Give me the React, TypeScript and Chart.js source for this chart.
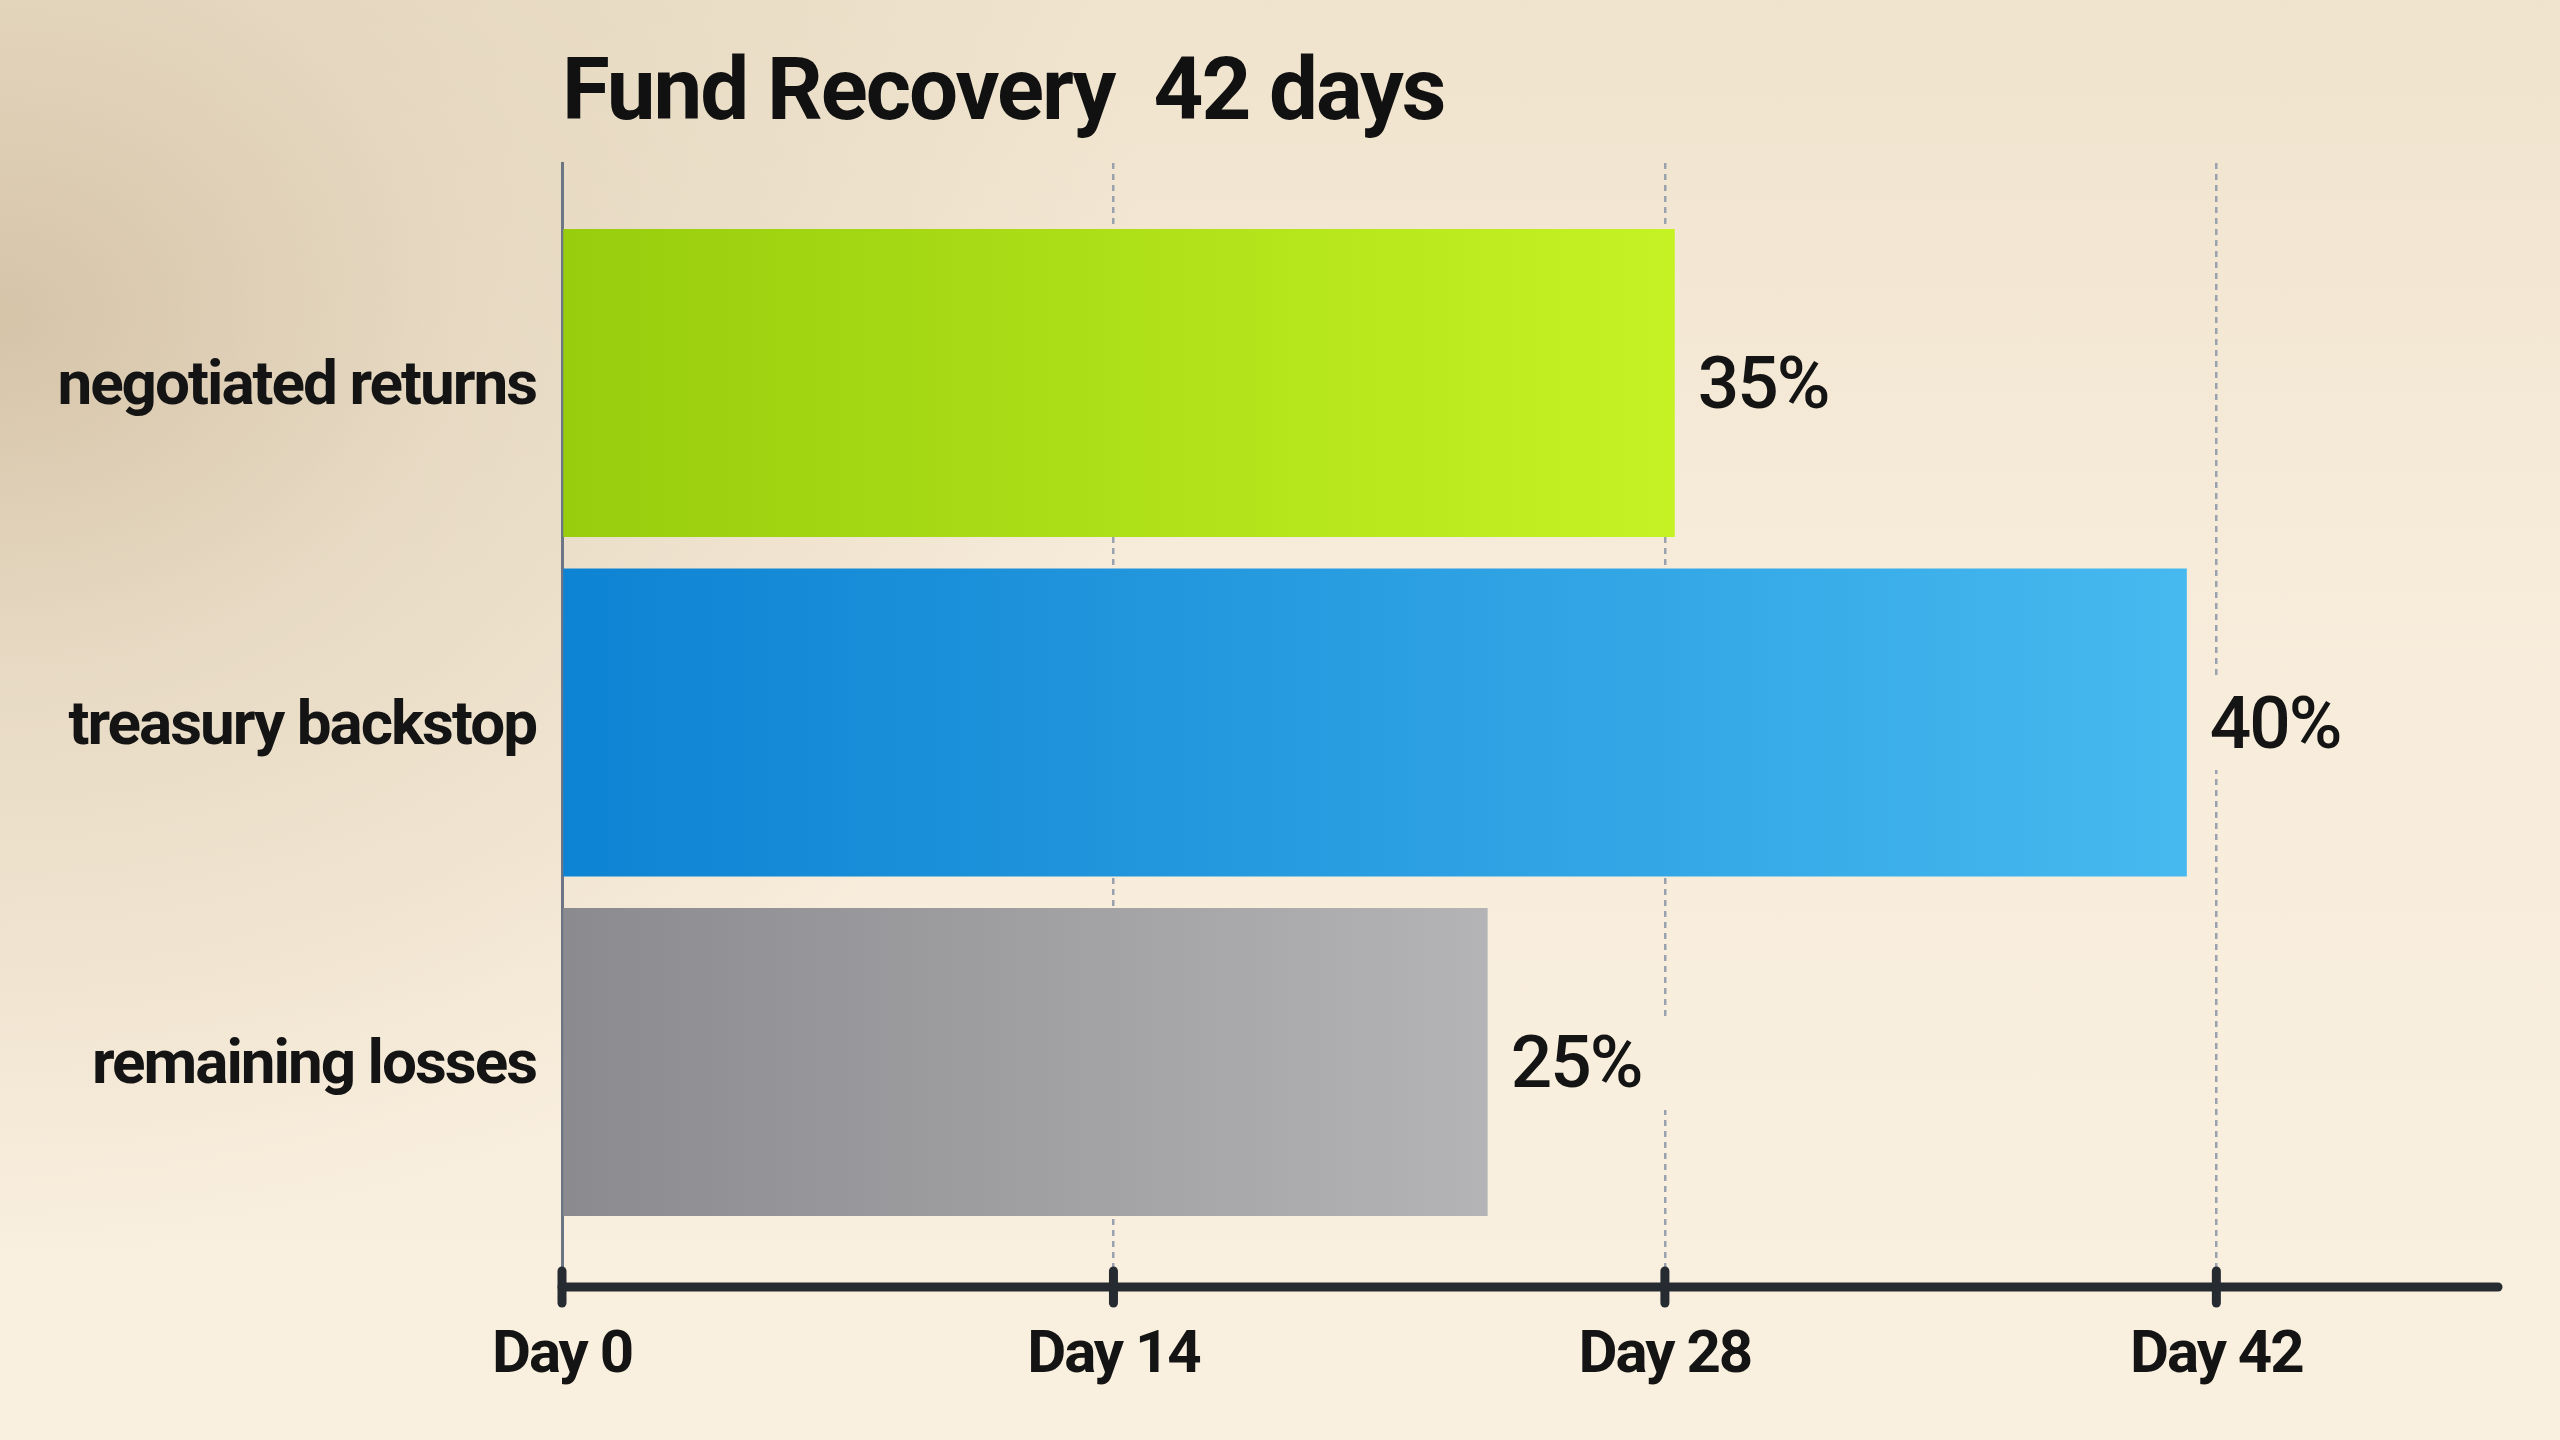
import React, { useEffect, useRef } from "react";
import { Chart, registerables } from "chart.js";

Chart.register(...registerables);

// ---- data ----
const chartTitle = "Fund Recovery  42 days";
const categories = ["negotiated returns", "treasury backstop", "remaining losses"];
const barDays = [28.25, 41.25, 23.5];
const shareLabels = ["35%", "40%", "25%"];
const tickValues = [0, 14, 28, 42];
const tickLabels = ["Day 0", "Day 14", "Day 28", "Day 42"];
const axisMinDay = 0;
const axisMaxDay = 49.15;
const barStartColors = ["#97cd0d", "#0d83d3", "#8b8b8f"];
const barEndColors = ["#c5f223", "#46b9ef", "#b4b4b6"];

const TEXT = "#141414";
const FONT = "Roboto";

const decorPlugin = {
  id: "decor",
  beforeDraw(chart: any) {
    chart.ctx.letterSpacing = "-2px";
  },
  beforeDatasetsDraw(chart: any) {
    const ctx = chart.ctx;
    const meta = chart.getDatasetMeta(0);
    ctx.save();
    ctx.font = `500 73px ${FONT}`;
    ctx.letterSpacing = "-2px";
    meta.data.forEach((el: any, i: number) => {
      const w = ctx.measureText(shareLabels[i]).width;
      const x0 = el.x + 23;
      ctx.clearRect(x0 - 14, el.y - 44, w + 42, 92);
    });
    ctx.restore();
  },
  afterDatasetsDraw(chart: any) {
    const ctx = chart.ctx;
    const { chartArea } = chart;
    const xs = chart.scales.x;
    const meta = chart.getDatasetMeta(0);
    ctx.save();
    // value labels
    ctx.font = `500 73px ${FONT}`;
    ctx.letterSpacing = "-2px";
    ctx.fillStyle = TEXT;
    ctx.textAlign = "left";
    ctx.textBaseline = "middle";
    meta.data.forEach((el: any, i: number) => {
      ctx.fillText(shareLabels[i], el.x + 23, el.y + 7);
    });
    // x axis line
    const y = chartArea.bottom;
    ctx.strokeStyle = "#262b32";
    ctx.lineCap = "round";
    ctx.lineWidth = 9;
    ctx.beginPath();
    ctx.moveTo(xs.getPixelForValue(axisMinDay), y);
    ctx.lineTo(chartArea.right, y);
    ctx.stroke();
    // tick marks
    ctx.lineWidth = 9;
    tickValues.forEach((v) => {
      const px = xs.getPixelForValue(v);
      ctx.beginPath();
      ctx.moveTo(px, y - 16);
      ctx.lineTo(px, y + 16);
      ctx.stroke();
    });
    // title
    ctx.font = `700 87px ${FONT}`;
    ctx.letterSpacing = "-2px";
    ctx.textBaseline = "alphabetic";
    ctx.fillStyle = "#111111";
    ctx.fillText(chartTitle, chartArea.left, 119);
    ctx.restore();
  },
};

export default function App() {
  const ref = useRef<HTMLCanvasElement | null>(null);

  useEffect(() => {
    if (!ref.current) return;
    const chart = new Chart(ref.current, {
      type: "bar",
      data: {
        datasets: [
          {
            data: categories.map((_, i) => ({ x: barDays[i], y: i })) as any,
            backgroundColor: (c: any) => {
              const ch = c.chart;
              const i = c.dataIndex ?? 0;
              if (!ch.chartArea || !ch.scales.x) return barStartColors[i];
              const x0 = ch.scales.x.getPixelForValue(0);
              const x1 = ch.scales.x.getPixelForValue(barDays[i]);
              const g = ch.ctx.createLinearGradient(x0, 0, x1, 0);
              g.addColorStop(0, barStartColors[i]);
              g.addColorStop(1, barEndColors[i]);
              return g;
            },
            borderWidth: 0,
            barPercentage: 0.907,
            categoryPercentage: 1,
          },
        ],
      },
      options: {
        indexAxis: "y",
        responsive: false,
        animation: false,
        devicePixelRatio: 1,
        layout: { padding: { top: 163, right: 62, bottom: 0, left: 0 } },
        plugins: {
          legend: { display: false },
          tooltip: { enabled: false },
          title: { display: false },
        },
        scales: {
          x: {
            type: "linear",
            min: axisMinDay,
            max: axisMaxDay,
            offset: false,
            afterBuildTicks: (s: any) => {
              s.ticks = tickValues.map((v) => ({ value: v }));
            },
            afterFit: (s: any) => {
              s.height = 153;
            },
            ticks: {
              callback: (v: any) => tickLabels[tickValues.indexOf(Number(v))] ?? "",
              color: TEXT,
              font: { family: FONT, size: 60, weight: "bold" },
              padding: 34,
              maxRotation: 0,
              autoSkip: false,
            },
            grid: {
              color: (c: any) => (c.tick && c.tick.value === 0 ? "rgba(0,0,0,0)" : "#9aa2b0"),
              lineWidth: 2.5,
              drawTicks: false,
            },
            border: { display: false, dash: [6, 5] },
          },
          y: {
            type: "linear",
            reverse: true,
            offset: false,
            min: -0.648,
            max: 2.663,
            afterBuildTicks: (s: any) => {
              s.ticks = categories.map((_, i) => ({ value: i }));
            },
            afterFit: (s: any) => {
              s.width = 562;
            },
            ticks: {
              callback: (v: any) => categories[Number(v)] ?? "",
              color: TEXT,
              font: { family: FONT, size: 62, weight: "bold" },
              padding: 26,
              labelOffset: 6,
              autoSkip: false,
            },
            grid: { display: false, drawTicks: false, offset: false },
            border: { display: true, color: "#6c7583", width: 3 },
          },
        },
      } as any,
      plugins: [decorPlugin],
    });
    return () => chart.destroy();
  }, []);

  return (
    <div
      style={{
        position: "fixed",
        inset: 0,
        width: 2560,
        height: 1440,
        background:
          "radial-gradient(ellipse 45% 65% at 0% 22%, rgba(210,192,164,0.9) 0%, rgba(222,207,182,0.6) 40%, rgba(240,228,208,0) 100%), linear-gradient(180deg, #efe3cd 0%, #f7ecda 40%, #faf0df 100%)",
      }}
    >
      <canvas ref={ref} width={2560} height={1440} style={{ display: "block" }} />
    </div>
  );
}
